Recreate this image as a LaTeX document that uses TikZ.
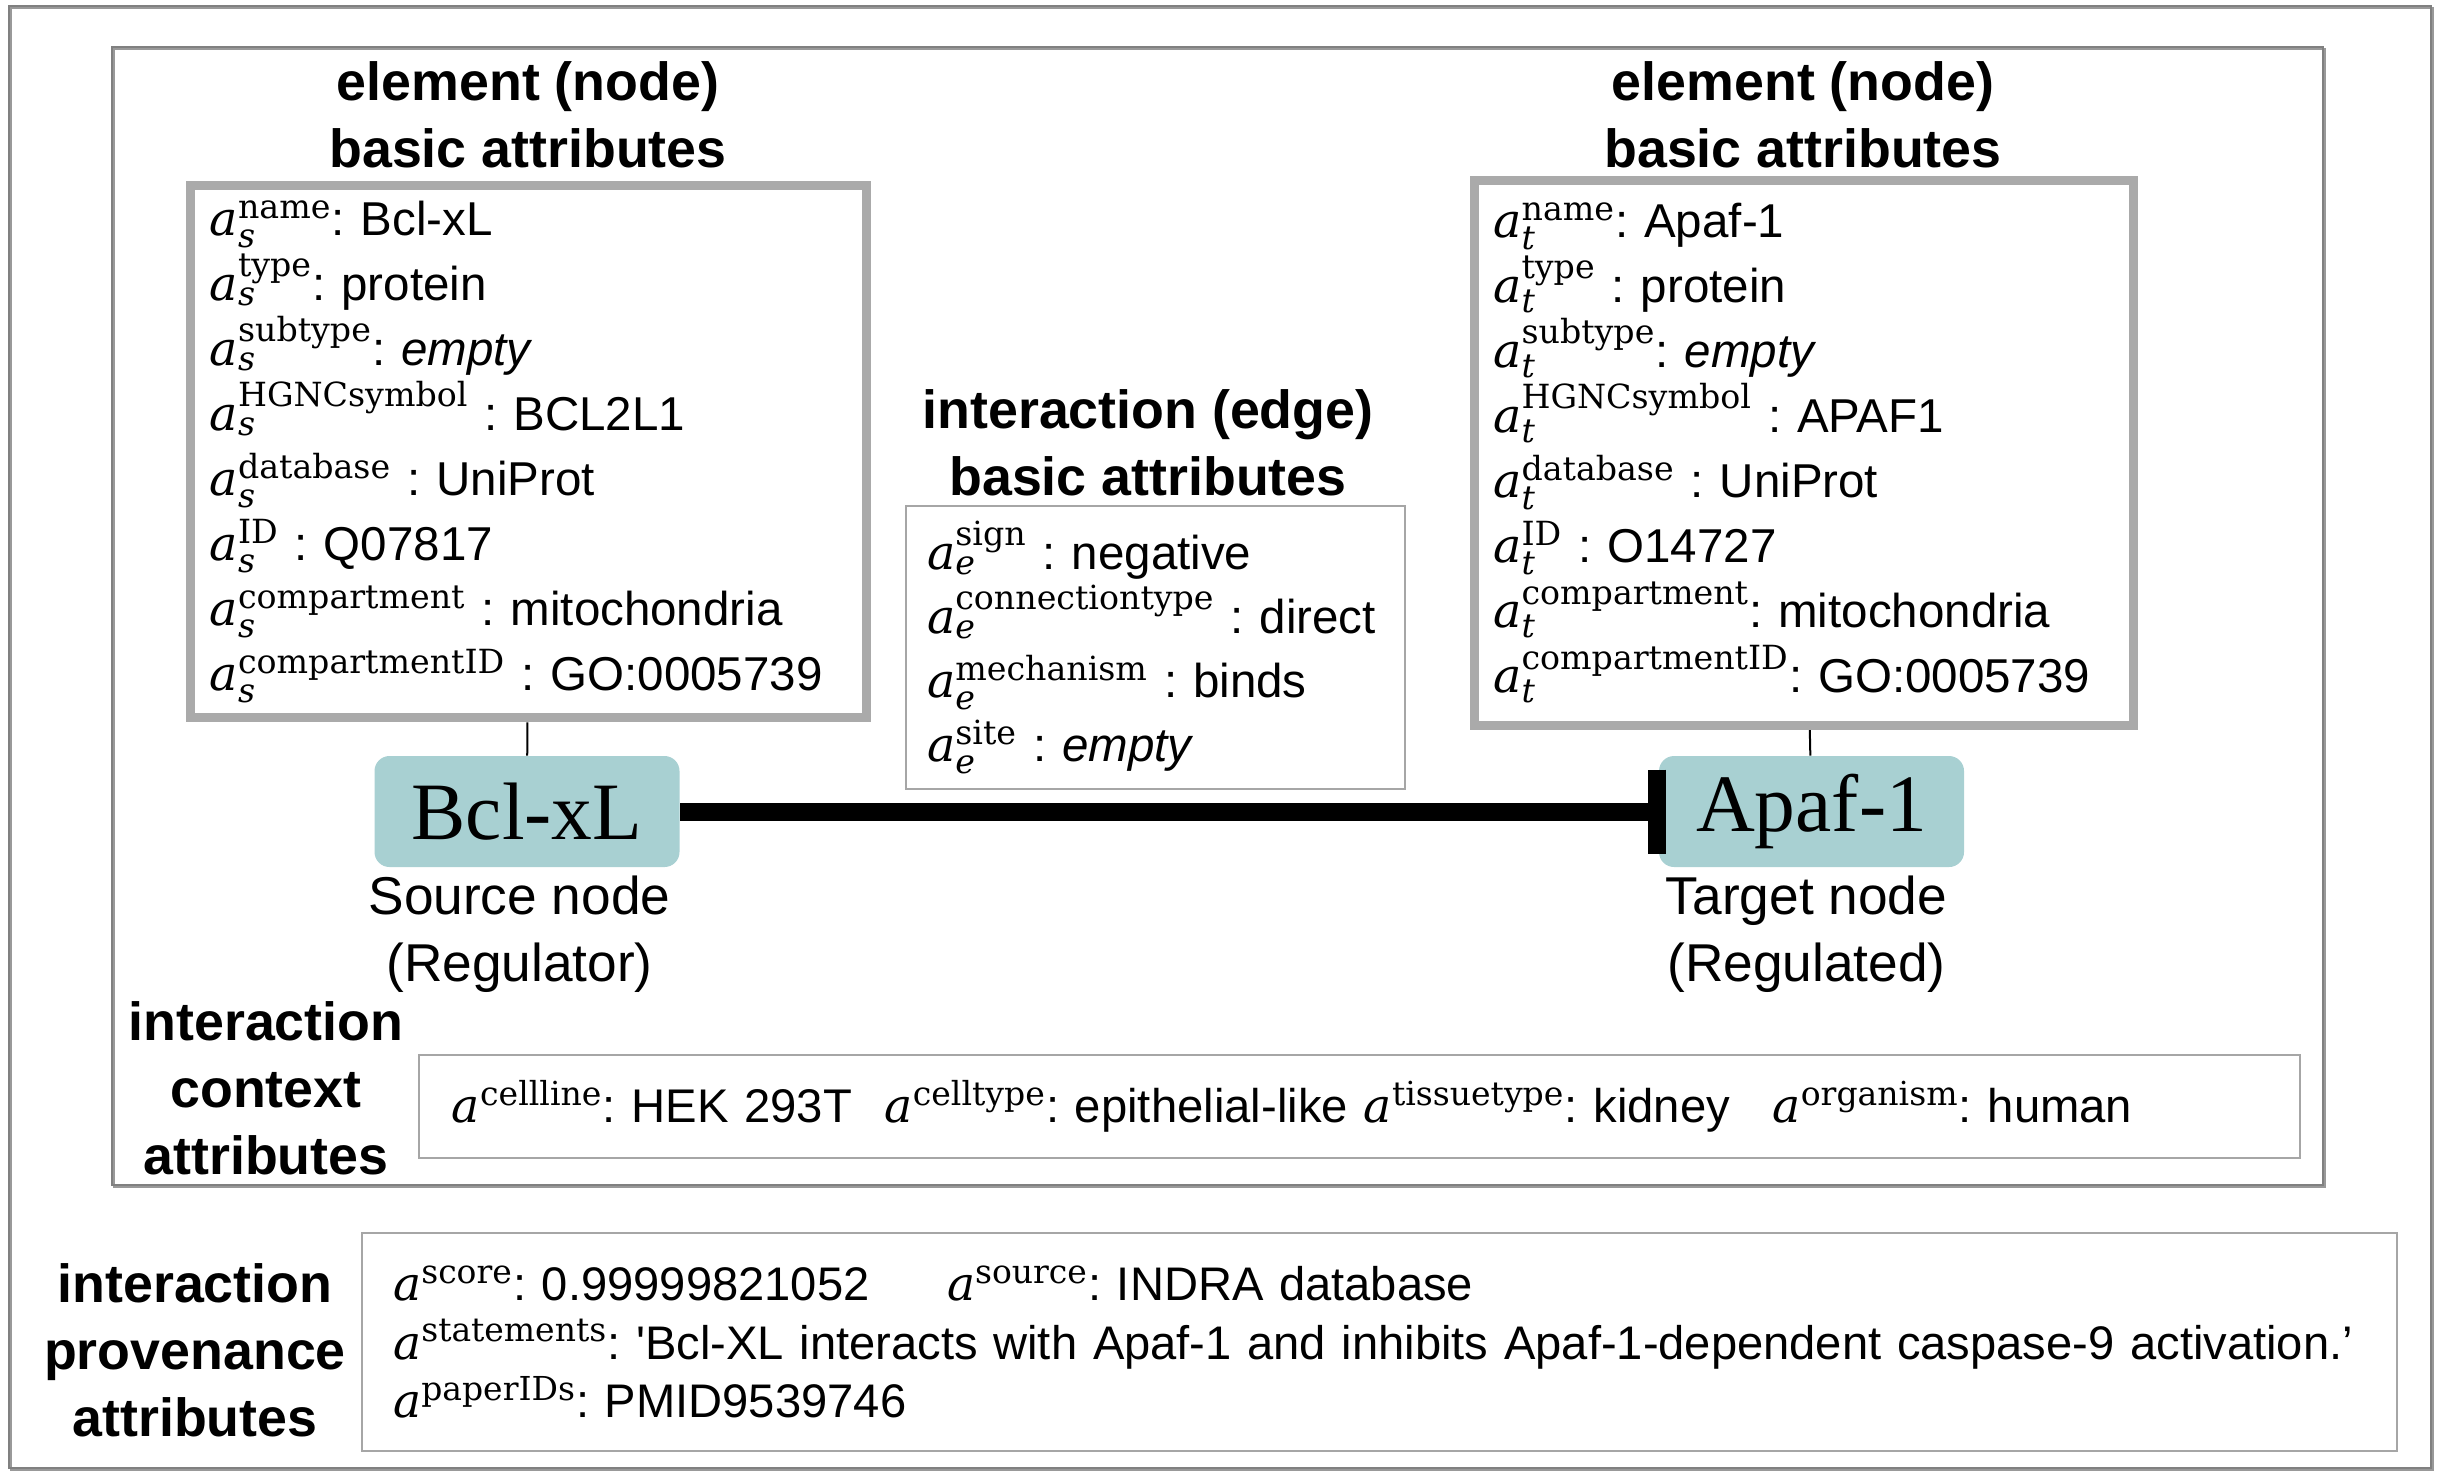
\documentclass[tikz,border=0pt]{standalone}
\usepackage{fix-cm}
\usepackage{fontspec}
\setmainfont{DejaVu Serif}
\setsansfont{Liberation Sans}
\newfontfamily\timesfont{Liberation Serif}
\usetikzlibrary{positioning,arrows.meta}
\definecolor{nodeteal}{RGB}{168,208,210}
\definecolor{boxgray}{RGB}{170,170,170}
\definecolor{thingray}{RGB}{166,166,166}
\definecolor{framegray}{RGB}{128,128,128}
\newcommand{\attrib}[2]{$\mathit{a}_{\mathit{#1}}^{\mathrm{#2}}$}
\newcommand{\ctxattrib}[1]{$\mathit{a}^{\mathrm{#1}}$}
\frenchspacing

\begin{document}
\begin{tikzpicture}[x=0.4pt,y=-0.4pt,
    outerframe/.style={draw=framegray,line width=0.8pt,
        preaction={draw=framegray!80,line width=0.8pt,transform canvas={shift={(0.7pt,-0.7pt)}}}},
    heading/.style={font=\fontsize{21.5}{26.8}\selectfont\sffamily\bfseries,align=center},
    attbox/.style={draw=boxgray,line width=3.6pt,font=\fontsize{19}{26}\selectfont\sffamily,align=left,inner xsep=7.5pt},
    thinbox/.style={draw=thingray,line width=0.8pt,font=\fontsize{19}{25.6}\selectfont\sffamily,align=left},
    protein/.style={fill=nodeteal,rounded corners=6pt,minimum width=122pt,minimum height=44.4pt,font=\fontsize{32.6}{36}\selectfont\timesfont},
    rolelabel/.style={font=\fontsize{21.3}{26.8}\selectfont\sffamily,align=center},
    inhibits/.style={line width=7.2pt,-{Bar[width=33.6pt]},shorten >=-3pt}]
    \useasboundingbox (0,0) rectangle (2444,1482);
    \draw[outerframe] (9,6) rectangle (2431,1468);
    \draw[outerframe] (112,47) rectangle (2323,1185);

    \node[heading] (srchead) at (528,115) {element (node)\\basic attributes};
    \node[attbox,text width=255pt,minimum height=213pt] (srcatt) at (528.5,451.5) {%
        \attrib{s}{name}: Bcl-xL\\
        \attrib{s}{type}: protein\\
        \attrib{s}{subtype}: \textit{empty}\\
        \attrib{s}{HGNCsymbol} : BCL2L1\\
        \attrib{s}{database} : UniProt\\
        \attrib{s}{ID} : Q07817\\
        \attrib{s}{compartment} : mitochondria\\
        \attrib{s}{compartmentID} : GO:0005739};

    \node[heading] (tgthead) at (1803,115) {element (node)\\basic attributes};
    \node[attbox,text width=248.6pt,minimum height=218pt] (tgtatt) at (1804,453) {%
        \attrib{t}{name}: Apaf-1\\
        \attrib{t}{type} : protein\\
        \attrib{t}{subtype}: \textit{empty}\\
        \attrib{t}{HGNCsymbol} : APAF1\\
        \attrib{t}{database} : UniProt\\
        \attrib{t}{ID} : O14727\\
        \attrib{t}{compartment}: mitochondria\\
        \attrib{t}{compartmentID}: GO:0005739};

    \node[heading] (edgehead) at (1148,443) {interaction (edge)\\basic attributes};
    \node[thinbox,text width=182.8pt,inner xsep=8.4pt,minimum height=113pt] (edgeatt) at (1155.5,647.5) {%
        \attrib{e}{sign} : negative\\
        \attrib{e}{connectiontype} : direct\\
        \attrib{e}{mechanism} : binds\\
        \attrib{e}{site} : \textit{empty}};

    \node[protein] (bcl) at (527,811.5) {Bcl-xL};
    \node[protein] (apaf) at (1811.5,811.5) {Apaf-1};
    \draw[inhibits] (bcl) -- (apaf);
    \draw[line width=0.8pt] (srcatt) -- (bcl);
    \draw[line width=0.8pt] (tgtatt) -- (apaf);
    \node[rolelabel,below=0pt of bcl,xshift=-3pt] (srclabel) {Source node\\(Regulator)};
    \node[rolelabel,below=0pt of apaf,xshift=-2pt] (tgtlabel) {Target node\\(Regulated)};

    \node[heading] (ctxhead) at (266,1088) {interaction\\context\\attributes};
    \node[thinbox,font=\fontsize{18.9}{24}\selectfont\sffamily,text width=726pt,inner xsep=13.2pt,minimum height=41.2pt] (ctxatt) at (1359.5,1106.5) {%
        \ctxattrib{cellline}: HEK 293T\hspace{13pt}\ctxattrib{celltype}: epithelial-like \ctxattrib{tissuetype}: kidney\hspace{17pt}\ctxattrib{organism}: human};

    \node[heading] (provhead) at (195,1350) {interaction\\provenance\\attributes};
    \node[thinbox,font=\fontsize{18.85}{23.4}\selectfont\sffamily,text width=789pt,inner xsep=12.5pt,minimum height=87.2pt] (provatt) at (1379.5,1342) {%
        \ctxattrib{score}: 0.99999821052\hspace{31pt}\ctxattrib{source}: INDRA database\\
        \ctxattrib{statements}: \textquotesingle Bcl-XL interacts with Apaf-1 and inhibits Apaf-1-dependent caspase-9 activation.’\\
        \ctxattrib{paperIDs}: PMID9539746};
\end{tikzpicture}
\end{document}
